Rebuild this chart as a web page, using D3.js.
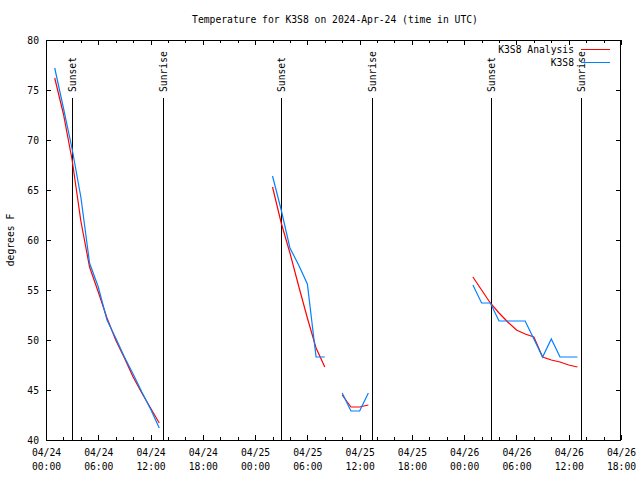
<!DOCTYPE html>
<html>
<head>
<meta charset="utf-8">
<script src="https://cdn.jsdelivr.net/npm/d3@7"></script>
<style>
  html, body { margin: 0; padding: 0; background: #fff; }
  svg { display: block; font-family: "DejaVu Sans Mono", "Liberation Mono", monospace; }
</style>
</head>
<body>
<svg id="chart" width="640" height="480"></svg>
<script>
// ---- data ----
const chartTitle = "Temperature for K3S8 on 2024-Apr-24 (time in UTC)";
const yLabel = "degrees F";
const startUTC = "2024-04-24T00:00:00Z";
const endUTC = "2024-04-26T18:00:00Z";
// hours after 2024-04-24 00:00 UTC; null separates gaps
const obsHours = [1,2,3,4,5,6,7,8,9,10,11,12,13, null,
                  26,27,28,29,30,31,32, null,
                  34,35,36,37, null,
                  49,50,51,52,53,54,55,56,57,58,59,60,61];
const observedK3S8 = [77.2,73.2,69.1,64.3,57.7,55.3,52.0,50.2,48.3,46.6,44.8,43.1,41.2, null,
                      66.4,63.0,59.2,57.5,55.6,48.3,48.3, null,
                      44.7,42.9,42.9,44.7, null,
                      55.5,53.7,53.7,51.9,51.9,51.9,51.9,50.1,48.3,50.1,48.3,48.3,48.3];
const analysisK3S8 = [76.2,72.6,68.0,61.9,57.3,54.8,52.2,50.0,48.2,46.3,44.7,43.2,41.7, null,
                      65.3,61.7,58.7,55.4,52.2,49.2,47.3, null,
                      44.5,43.3,43.3,43.5, null,
                      56.3,55.0,53.7,52.7,51.8,51.0,50.6,50.3,48.3,48.0,47.8,47.5,47.3];
const sunsetHours = [3.0, 27.0, 51.1];
const sunriseHours = [13.4, 37.4, 61.4];
const yTicks = [40,45,50,55,60,65,70,75,80];
const seriesNames = ["K3S8 Analysis", "K3S8"];
const seriesColors = ["#ff0000", "#0080ff"];

// ---- layout ----
const svg = d3.select("#chart");
const L = 46, R = 621, T = 40, B = 440;
const t0 = new Date(startUTC), t1 = new Date(endUTC);
const hr = h => new Date(t0.getTime() + h * 3600e3);

const x = d3.scaleUtc().domain([t0, t1]).range([L, R]);
const y = d3.scaleLinear().domain([40, 80]).range([B, T]);

svg.append("rect").attr("width", 640).attr("height", 480).attr("fill", "#fff");

// title
svg.append("text").attr("x", 335).attr("y", 23).attr("text-anchor", "middle")
  .attr("font-size", "9.7px").text(chartTitle);

// y label
svg.append("text").attr("transform", "translate(14,240) rotate(-90)")
  .attr("text-anchor", "middle").attr("font-size", "9.7px").text(yLabel);

const majorTicks = d3.utcHour.every(6).range(t0, new Date(t1.getTime() + 1));
const minorTicks = d3.utcHour.every(2).range(t0, new Date(t1.getTime() + 1))
  .filter(d => d.getUTCHours() % 6 !== 0);

// bottom axis
const gB = svg.append("g").attr("transform", `translate(0,${B})`)
  .call(d3.axisBottom(x).tickValues(majorTicks).tickSizeInner(-5).tickSizeOuter(0).tickPadding(8)
    .tickFormat(""));
gB.selectAll(".tick").each(function(d) {
  const t = d3.select(this).append("text").attr("fill", "#000").attr("font-size", "9.7px")
    .attr("text-anchor", "middle");
  t.append("tspan").attr("x", 0).attr("y", 16).text(d3.utcFormat("%m/%d")(d));
  t.append("tspan").attr("x", 0).attr("y", 30).text(d3.utcFormat("%H:%M")(d));
});
svg.append("g").attr("transform", `translate(0,${B})`)
  .call(d3.axisBottom(x).tickValues(minorTicks).tickSizeInner(-3).tickSizeOuter(0).tickFormat(""));

// top mirror
svg.append("g").attr("transform", `translate(0,${T})`)
  .call(d3.axisTop(x).tickValues(majorTicks).tickSizeInner(-5).tickSizeOuter(0).tickFormat(""));
svg.append("g").attr("transform", `translate(0,${T})`)
  .call(d3.axisTop(x).tickValues(minorTicks).tickSizeInner(-3).tickSizeOuter(0).tickFormat(""));

// left axis
const gL = svg.append("g").attr("transform", `translate(${L},0)`)
  .call(d3.axisLeft(y).tickValues(yTicks).tickSizeInner(-5).tickSizeOuter(0).tickPadding(7)
    .tickFormat(d3.format("d")));
gL.selectAll("text").attr("font-size", "9.7px").attr("font-family", "DejaVu Sans Mono");
// right mirror
svg.append("g").attr("transform", `translate(${R},0)`)
  .call(d3.axisRight(y).tickValues(yTicks).tickSizeInner(-5).tickSizeOuter(0).tickFormat(""));

svg.selectAll(".domain").remove();
svg.selectAll(".tick line").attr("stroke", "#000").attr("shape-rendering", "crispEdges");
svg.selectAll(".tick text").attr("font-family", "DejaVu Sans Mono");

// border
svg.append("rect").attr("x", L + 0.5).attr("y", T + 0.5).attr("width", R - L - 1).attr("height", B - T)
  .attr("fill", "none").attr("stroke", "#000").attr("shape-rendering", "crispEdges");

// sunset/sunrise markers
const events = sunsetHours.map(h => ({h, label: "Sunset"}))
  .concat(sunriseHours.map(h => ({h, label: "Sunrise"})));
events.forEach(e => {
  const xx = Math.round(x(hr(e.h))) + 0.5;
  svg.append("line").attr("x1", xx).attr("x2", xx).attr("y1", 98).attr("y2", B)
    .attr("stroke", "#000").attr("shape-rendering", "crispEdges");
  svg.append("text").attr("transform", `translate(${xx + 3.5},92) rotate(-90)`)
    .attr("font-size", "9.7px").attr("text-anchor", "start").text(e.label);
});

// series
const line = d3.line()
  .defined((d, i) => obsHours[i] !== null && d !== null)
  .x((d, i) => x(hr(obsHours[i])))
  .y(d => y(d));

[analysisK3S8, observedK3S8].forEach((vals, k) => {
  svg.append("path").datum(vals).attr("d", line).attr("fill", "none")
    .attr("stroke", seriesColors[k]).attr("stroke-width", 1.2);
});

// legend
seriesNames.forEach((name, k) => {
  const yy = 49 + k * 13;
  svg.append("text").attr("x", 574).attr("y", yy + 4).attr("text-anchor", "end")
    .attr("font-size", "9.7px").text(name);
  svg.append("line").attr("x1", 581).attr("x2", 610).attr("y1", yy + 0.5).attr("y2", yy + 0.5)
    .attr("stroke", seriesColors[k]).attr("stroke-width", 1).attr("shape-rendering", "crispEdges");
});
</script>
</body>
</html>
